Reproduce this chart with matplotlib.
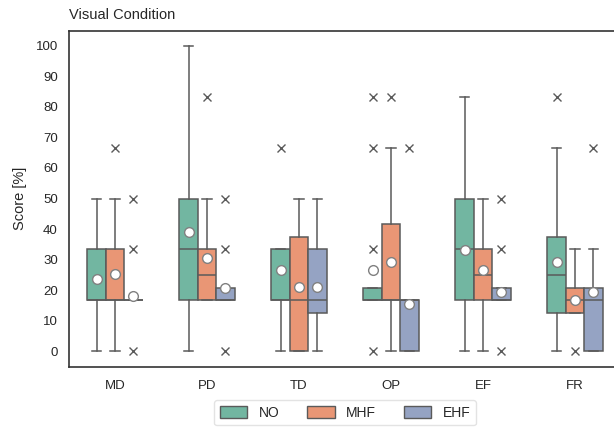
"""
Boxplots of scores per visual condition (NO / MHF / EHF).
"""

import colorsys

import matplotlib
matplotlib.use("Agg")
import matplotlib.pyplot as plt
import matplotlib.patches as mpatches
import matplotlib.colors as mcolors

plt.rcParams["font.family"] = ["Liberation Sans", "DejaVu Sans"]
plt.rcParams["text.color"] = "#262626"
plt.rcParams["xtick.color"] = "#262626"
plt.rcParams["ytick.color"] = "#262626"
plt.rcParams["axes.labelcolor"] = "#262626"

S = 100 / 6  # scores come in steps of 1/6

categories = ["MD", "PD", "TD", "OP", "EF", "FR"]
groups = ["NO", "MHF", "EHF"]

# stats per category, one entry per group (NO, MHF, EHF)
q1 = [
    [S, S, S], [S, S, S], [S, 0, 12.5],
    [S, S, 0], [S, S, S], [12.5, 12.5, 0],
]
median = [
    [S, S, S], [2 * S, 25, S], [S, S, S],
    [S, S, S], [2 * S, 25, S], [25, S, S],
]
q3 = [
    [2 * S, 2 * S, S], [3 * S, 2 * S, 20.8], [2 * S, 37.5, 2 * S],
    [20.8, 41.7, S], [3 * S, 2 * S, 20.8], [37.5, 20.8, 20.8],
]
whisker_lo = [
    [0, 0, S], [0, S, S], [0, 0, 0],
    [S, 0, 0], [0, 0, S], [0, 12.5, 0],
]
whisker_hi = [
    [3 * S, 3 * S, S], [6 * S, 3 * S, 20.8], [2 * S, 3 * S, 3 * S],
    [20.8, 4 * S, S], [5 * S, 3 * S, 20.8], [4 * S, 2 * S, 2 * S],
]
means = [
    [23.8, 25.2, 18.1], [39.0, 30.6, 20.8], [26.6, 21.0, 21.0],
    [26.6, 29.3, 15.4], [33.3, 26.6, 19.5], [29.3, 16.7, 19.5],
]
fliers = [
    [[], [4 * S], [0, 2 * S, 3 * S]],
    [[], [5 * S], [0, 2 * S, 3 * S]],
    [[4 * S], [], []],
    [[0, 2 * S, 4 * S, 5 * S], [5 * S], [4 * S]],
    [[], [], [0, 2 * S, 3 * S]],
    [[5 * S], [0], [4 * S]],
]

base_colors = ["#66c2a5", "#fc8d62", "#8da0cb"]


def desat(c, prop=0.75):
    r, g, b = mcolors.to_rgb(c)
    h, l, s = colorsys.rgb_to_hls(r, g, b)
    return colorsys.hls_to_rgb(h, l, s * prop)


colors = [desat(c) for c in base_colors]
line_c = "#5a5a5a"

fig = plt.figure(figsize=(6.14, 4.28), dpi=100)
W, H = 614, 428
ax = fig.add_axes([69 / W, (H - 366.5) / H, (621 - 69) / W, 336 / H])

box_w = 0.2
for gi, g in enumerate(groups):
    stats = []
    for ci in range(len(categories)):
        stats.append(dict(
            q1=q1[ci][gi], med=median[ci][gi], q3=q3[ci][gi],
            whislo=whisker_lo[ci][gi], whishi=whisker_hi[ci][gi],
            mean=means[ci][gi], fliers=fliers[ci][gi],
        ))
    pos = [ci + (gi - 1) * box_w for ci in range(len(categories))]
    ax.bxp(
        stats, positions=pos, widths=box_w, capwidths=box_w / 2,
        patch_artist=True, showmeans=True, manage_ticks=False,
        boxprops=dict(facecolor=colors[gi], edgecolor=line_c, linewidth=1.1),
        medianprops=dict(color=line_c, linewidth=1.1),
        whiskerprops=dict(color=line_c, linewidth=1.1),
        capprops=dict(color=line_c, linewidth=1.1),
        flierprops=dict(marker="x", markeredgecolor=line_c, markersize=6,
                        markeredgewidth=1.0),
        meanprops=dict(marker="o", markerfacecolor="white",
                       markeredgecolor="#808080", markersize=7),
    )

ax.set_xlim(-0.5, len(categories) - 0.5)
ax.set_ylim(-5, 105)
ax.set_xticks(range(len(categories)))
ax.set_xticklabels(categories, fontsize=9.5)
ax.set_yticks(range(0, 101, 10))
ax.tick_params(axis="y", labelsize=9.5, length=0, pad=8)
ax.tick_params(axis="x", length=0, pad=10)
for sp in ax.spines.values():
    sp.set_color("#333333")
    sp.set_linewidth(1.2)
ax.set_ylabel("Score [%]", fontsize=10.5, labelpad=6)
ax.set_title("Visual Condition", loc="left", fontsize=10.5, pad=8)

handles = [
    mpatches.Patch(facecolor=colors[i], edgecolor=line_c, label=g)
    for i, g in enumerate(groups)
]
ax.legend(
    handles=handles, loc="upper center", bbox_to_anchor=(0.5, -0.08),
    ncol=3, fontsize=10, frameon=True, edgecolor="#dddddd",
    handlelength=2.0, handleheight=0.9, columnspacing=2.0,
)

plt.savefig("out.png", dpi=100)
